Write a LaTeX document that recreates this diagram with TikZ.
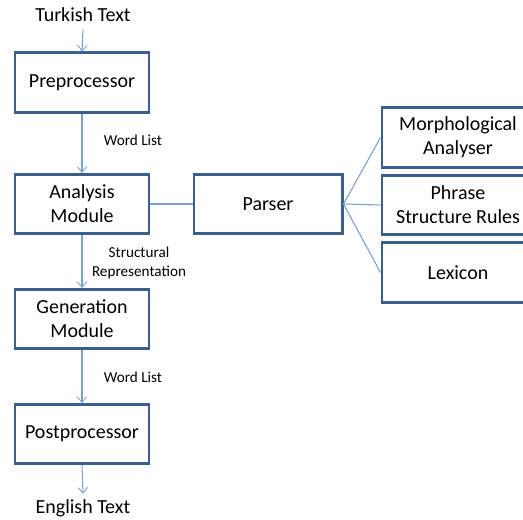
\documentclass[tikz,border=0pt]{standalone}
\usepackage{fontspec}
\setmainfont{Carlito}
\usepackage{tikz}
\usetikzlibrary{positioning, arrows.meta, calc}
\definecolor{boxblue}{HTML}{3B5F8C}
\definecolor{linkblue}{HTML}{7A9FD0}

\begin{document}
\begin{tikzpicture}[
        x=0.025cm, y=-0.025cm,
        module/.style={rectangle, draw=boxblue, line width=2.1pt, minimum width=3.35cm, minimum height=1.48cm, align=center, font=\fontsize{14.2}{17}\selectfont, inner sep=1pt},
        wide/.style={module, minimum width=3.7cm},
        resource/.style={module, minimum width=3.8cm},
        flowlabel/.style={font=\fontsize{14.2}{17}\selectfont, inner sep=1pt},
        edgelabel/.style={font=\fontsize{10.8}{14}\selectfont, align=center, inner sep=0pt},
        link/.style={draw=linkblue, line width=0.75pt},
        flow/.style={link, -{Straight Barb[length=4pt, width=7pt, line width=0.6pt]}}
    ]
    \useasboundingbox (0,0) rectangle (523,519);
    \clip (0,0) rectangle (523,519);

    % main chain on the left
    \node[flowlabel] (turkish) at (83,15) {Turkish Text};
    \node[module] (pre) at (82,82.5) {Preprocessor};
    \node[module] (analysis) at (82,204) {Analysis\\Module};
    \node[module] (generation) at (82,319) {Generation\\Module};
    \node[module] (post) at (82,434) {Postprocessor};
    \node[flowlabel] (english) at (83,508) {English Text};

    % parser and its resources (cut off at the right edge)
    \node[wide] (parser) at (268,204) {Parser};
    \node[resource] (morph) at (458,137.5) {Morphological\\Analyser};
    \node[resource] (phrase) at (458,205) {Phrase\\Structure Rules};
    \node[resource] (lexicon) at (458,272.5) {Lexicon};

    % labels beside the arrows
    \node[edgelabel] (wl1) at (133,140) {Word List};
    \node[edgelabel] (sr) at (139,263) {Structural\\Representation};
    \node[edgelabel] (wl2) at (133,377) {Word List};

    \coordinate (tstart) at ($(turkish.south)+(0,6)$);
    \coordinate (eend) at ($(english.north)+(0,-4)$);
    \draw[flow] (tstart) -- (pre.north);
    \draw[flow] (pre) -- (analysis);
    \draw[flow] (analysis) -- (generation);
    \draw[flow] (generation) -- (post);
    \draw[flow] (post.south) -- (eend);

    \draw[link] (analysis.east) -- (parser.west);
    \foreach \res in {morph, phrase, lexicon} {
        \draw[link] (parser.east) -- (\res.west);
    }
\end{tikzpicture}
\end{document}
